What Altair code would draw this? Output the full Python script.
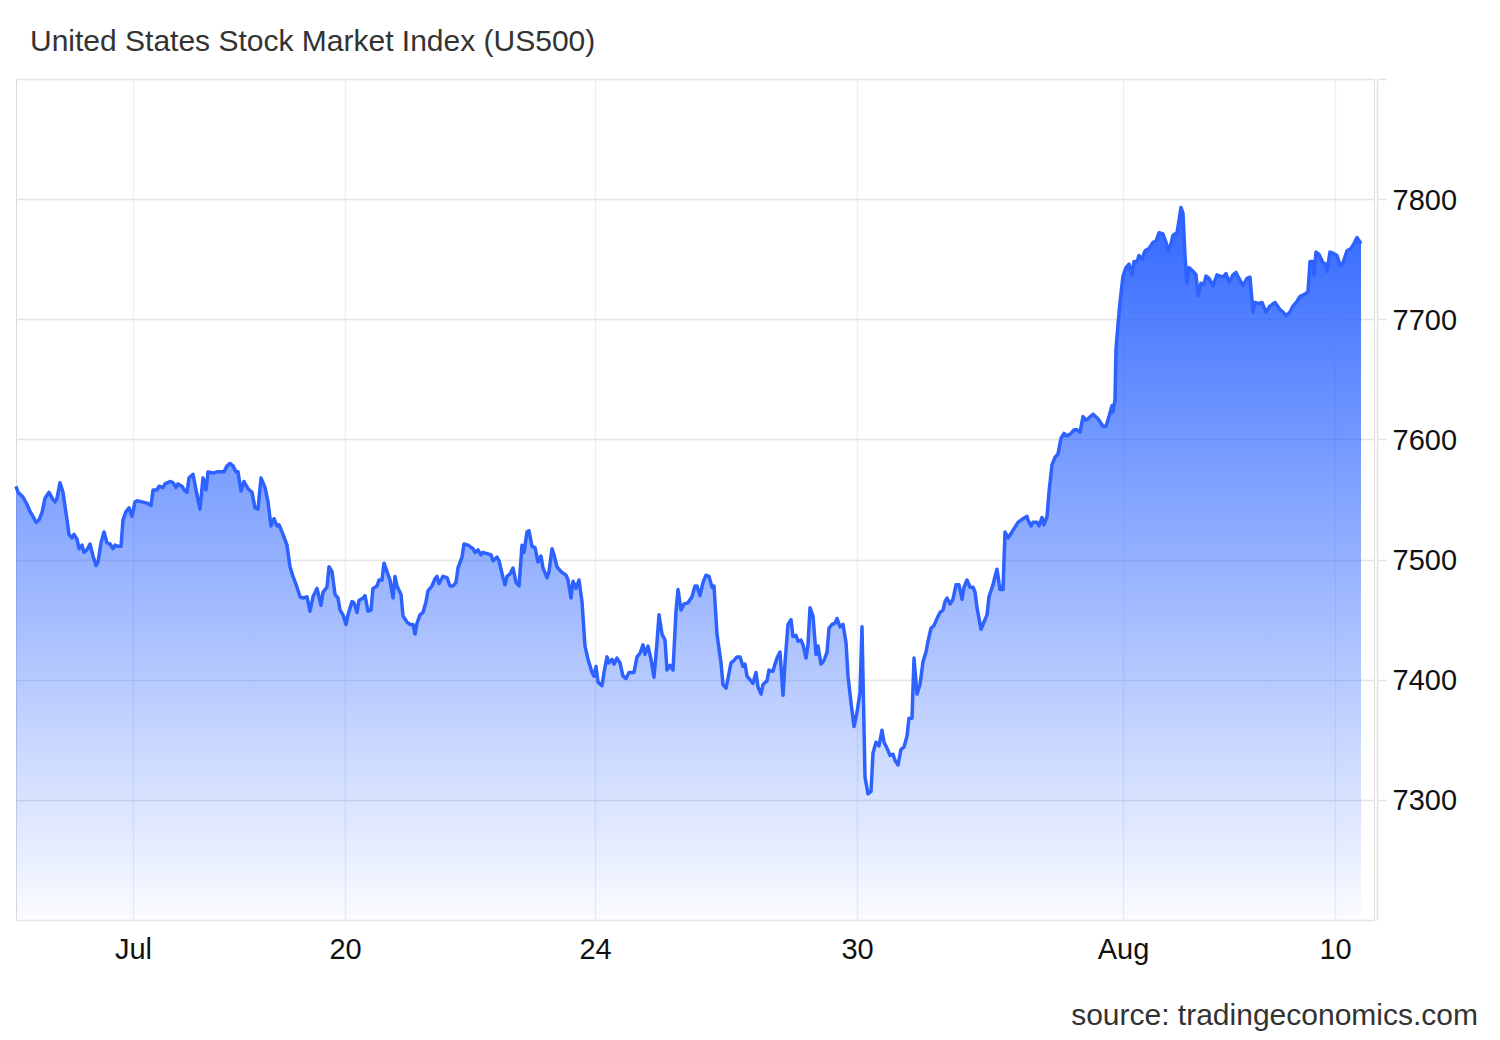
import altair as alt
import pandas as pd

TITLE = "United States Stock Market Index (US500)"
SOURCE = "source: tradingeconomics.com"

# time position (chart time units) and index level
T = [0, 2, 7, 11, 14, 17, 20, 23, 26, 29, 33, 37, 39, 41, 44, 47, 51, 53, 56, 58,
     61, 63, 66, 68, 71, 74, 77, 80, 82, 85, 88, 91, 94, 97, 99, 102, 105, 107, 110, 113,
     116, 119, 121, 126, 131, 135, 137, 141, 143, 147, 149, 154, 157, 160, 162, 166, 169, 171, 173, 177,
     180, 184, 187, 190, 192, 197, 201, 204, 208, 211, 214, 217, 220, 222, 225, 228, 232, 236, 239, 242,
     245, 249, 252, 255, 258, 261, 263, 267, 271, 274, 277, 281, 284, 287, 291, 294, 297, 301, 305, 307,
     311, 313, 316, 319, 322, 324, 327, 330, 332, 336, 338, 341, 343, 347, 349, 352, 355, 357, 361, 363,
     366, 368, 371, 374, 377, 379, 381, 385, 387, 391, 394, 397, 399, 401, 404, 407, 410, 412, 416, 419,
     421, 423, 427, 431, 434, 437, 440, 442, 446, 448, 452, 457, 459, 462, 465, 467, 471, 475, 477, 481,
     483, 487, 489, 491, 494, 497, 500, 503, 506, 508, 511, 513, 516, 519, 522, 525, 527, 531, 533, 536,
     538, 541, 545, 550, 552, 555, 557, 560, 563, 566, 569, 572, 576, 578, 580, 582, 586, 588, 591, 593,
     596, 598, 601, 604, 607, 610, 613, 618, 621, 624, 627, 629, 632, 635, 638, 641, 643, 646, 649, 651,
     654, 657, 660, 662, 665, 668, 672, 676, 679, 681, 684, 687, 690, 693, 696, 698, 701, 705, 707, 710,
     712, 715, 718, 721, 724, 727, 729, 731, 735, 737, 740, 742, 745, 747, 751, 753, 757, 759, 761, 764,
     767, 769, 772, 775, 777, 780, 782, 785, 787, 790, 792, 794, 797, 800, 802, 805, 808, 811, 813, 816,
     819, 821, 824, 827, 830, 832, 835, 838, 841, 844, 846, 849, 852, 855, 857, 860, 863, 866, 868, 871,
     874, 877, 879, 882, 885, 888, 891, 893, 896, 898, 901, 904, 907, 910, 912, 915, 918, 921, 924, 927,
     929, 931, 934, 937, 940, 943, 946, 948, 951, 954, 957, 959, 961, 965, 968, 971, 973, 977, 979, 981,
     984, 987, 989, 992, 996, 999, 1002, 1007, 1011, 1012, 1015, 1017, 1021, 1023, 1026, 1028, 1031, 1033, 1036, 1039,
     1042, 1045, 1048, 1051, 1055, 1058, 1061, 1064, 1067, 1070, 1073, 1077, 1081, 1083, 1087, 1090, 1093, 1096, 1097, 1099,
     1100, 1102, 1104, 1107, 1110, 1113, 1116, 1118, 1121, 1123, 1126, 1129, 1133, 1137, 1140, 1143, 1147, 1150, 1152, 1155,
     1157, 1161, 1165, 1167, 1169, 1171, 1173, 1177, 1180, 1182, 1185, 1188, 1190, 1193, 1197, 1201, 1204, 1207, 1210, 1213,
     1217, 1220, 1223, 1227, 1231, 1234, 1237, 1239, 1242, 1246, 1250, 1254, 1259, 1264, 1267, 1270, 1274, 1277, 1281, 1284,
     1289, 1292, 1294, 1297, 1298, 1300, 1303, 1307, 1310, 1311, 1314, 1317, 1321, 1324, 1327, 1331, 1335, 1338, 1341, 1345]

V = [7561, 7556, 7552, 7546, 7540, 7536, 7531, 7533, 7539, 7551, 7556, 7550, 7548, 7551, 7564, 7556, 7533, 7521, 7518, 7521,
     7517, 7509, 7512, 7506, 7508, 7513, 7503, 7495, 7498, 7514, 7523, 7514, 7513, 7509, 7512, 7511, 7511, 7533, 7540, 7543,
     7536, 7548, 7549, 7548, 7547, 7545, 7558, 7558, 7561, 7560, 7563, 7565, 7564, 7560, 7563, 7561, 7557, 7556, 7568, 7571,
     7558, 7542, 7568, 7558, 7573, 7572, 7573, 7573, 7573, 7578, 7580, 7578, 7573, 7573, 7557, 7565, 7559, 7556, 7543, 7542,
     7568, 7560, 7548, 7528, 7534, 7528, 7529, 7521, 7512, 7494, 7486, 7477, 7469, 7468, 7469, 7457, 7469, 7476, 7462, 7473,
     7477, 7494, 7490, 7471, 7468, 7458, 7454, 7446, 7454, 7465, 7464, 7456, 7466, 7468, 7470, 7457, 7458, 7476, 7478, 7483,
     7483, 7497, 7490, 7483, 7468, 7486, 7478, 7471, 7453, 7448, 7446, 7446, 7438, 7447, 7454, 7456, 7465, 7474, 7478, 7484,
     7486, 7480, 7486, 7485, 7478, 7478, 7481, 7493, 7502, 7513, 7512, 7509, 7506, 7508, 7504, 7506, 7505, 7504, 7499, 7502,
     7499, 7485, 7479, 7486, 7488, 7493, 7481, 7478, 7512, 7506, 7523, 7524, 7511, 7510, 7498, 7503, 7493, 7485, 7490, 7509,
     7504, 7494, 7490, 7487, 7483, 7468, 7482, 7476, 7483, 7465, 7428, 7417, 7406, 7403, 7411, 7398, 7395, 7406, 7419, 7414,
     7417, 7413, 7418, 7414, 7403, 7401, 7406, 7406, 7419, 7422, 7429, 7421, 7428, 7417, 7402, 7431, 7454, 7438, 7433, 7408,
     7412, 7408, 7457, 7475, 7458, 7463, 7464, 7469, 7478, 7478, 7470, 7481, 7487, 7486, 7477, 7478, 7438, 7414, 7396, 7393,
     7401, 7414, 7416, 7419, 7419, 7411, 7413, 7403, 7399, 7397, 7406, 7394, 7388, 7396, 7399, 7408, 7407, 7413, 7418, 7423,
     7387, 7414, 7446, 7450, 7436, 7437, 7432, 7433, 7429, 7418, 7429, 7460, 7453, 7421, 7428, 7413, 7416, 7423, 7443, 7446,
     7447, 7451, 7444, 7446, 7431, 7403, 7381, 7361, 7373, 7389, 7444, 7319, 7305, 7307, 7339, 7348, 7345, 7358, 7348, 7343,
     7337, 7338, 7333, 7329, 7342, 7344, 7353, 7368, 7368, 7418, 7388, 7396, 7415, 7423, 7432, 7443, 7445, 7451, 7456, 7458,
     7465, 7468, 7463, 7467, 7479, 7479, 7467, 7477, 7483, 7477, 7477, 7473, 7460, 7442, 7448, 7454, 7469, 7479, 7486, 7492,
     7475, 7475, 7523, 7518, 7523, 7527, 7531, 7534, 7536, 7533, 7528, 7531, 7531, 7528, 7535, 7529, 7536, 7556, 7579, 7585,
     7588, 7601, 7605, 7603, 7605, 7608, 7608, 7606, 7619, 7616, 7618, 7621, 7618, 7616, 7611, 7611, 7619, 7628, 7623, 7633,
     7675, 7696, 7714, 7736, 7743, 7746, 7737, 7748, 7748, 7753, 7750, 7757, 7759, 7764, 7765, 7772, 7771, 7764, 7757, 7763,
     7770, 7772, 7793, 7788, 7753, 7730, 7743, 7740, 7737, 7720, 7730, 7729, 7736, 7734, 7728, 7737, 7736, 7735, 7738, 7731,
     7737, 7739, 7734, 7728, 7734, 7735, 7706, 7714, 7713, 7714, 7706, 7711, 7714, 7708, 7706, 7703, 7706, 7711, 7715, 7719,
     7721, 7723, 7748, 7748, 7737, 7756, 7754, 7747, 7746, 7740, 7756, 7755, 7753, 7745, 7747, 7757, 7759, 7763, 7768, 7763]

X_TICKS = [117, 329, 579, 841, 1107, 1319]
X_LABELS = ["Jul", "20", "24", "30", "Aug", "10"]
X_MAX = 1358
Y_TICKS = [7300, 7400, 7500, 7600, 7700, 7800, 7900]
Y_MIN, Y_MAX = 7200, 7900

FONT = "Liberation Sans"

df = pd.DataFrame({"t": T, "v": V})

x_label_expr = ("[" + ",".join("'%s'" % s for s in X_LABELS) + "][indexof(["
                + ",".join(str(v) for v in X_TICKS) + "], datum.value)]")

x_enc = alt.X(
    "t:Q",
    scale=alt.Scale(domain=[0, X_MAX], nice=False, zero=False),
    axis=alt.Axis(
        values=X_TICKS, labelExpr=x_label_expr, title=None,
        grid=True, gridColor="#eceff5", gridWidth=1.5,
        ticks=False, tickSize=0,
        domain=True, domainColor="#e4e4e4", domainWidth=1.5,
        labelPadding=38, labelBaseline="alphabetic", labelFontSize=29,
        labelFont=FONT, labelColor="#111111", labelFlush=False, labelOverlap=False,
    ),
)

y_enc = alt.Y(
    "v:Q",
    scale=alt.Scale(domain=[Y_MIN, Y_MAX], nice=False, zero=False),
    axis=alt.Axis(
        orient="right", values=Y_TICKS, format="d", title=None,
        labelExpr="datum.value == %d ? '' : datum.label" % Y_MAX,
        grid=True, gridColor="#e4e4e4", gridWidth=1.5,
        offset=3, domain=True, domainColor="#e4e4e4", domainWidth=1.5,
        ticks=True, tickColor="#e4e4e4", tickSize=9, tickWidth=1.5,
        labelPadding=6, labelBaseline="alphabetic", labelOffset=10,
        labelFontSize=29, labelFont=FONT, labelColor="#111111",
        labelFlush=False, labelOverlap=False,
    ),
)

base = alt.Chart(df)

area = base.mark_area(
    color=alt.Gradient(
        gradient="linear",
        stops=[
            alt.GradientStop(color="rgba(41,98,255,0.96)", offset=0),
            alt.GradientStop(color="rgba(41,98,255,0.02)", offset=1),
        ],
        x1=1, x2=1, y1=0, y2=1,
    )
).encode(x=x_enc, y=y_enc, y2=alt.datum(Y_MIN))

line = base.mark_line(color="#2d62ff", strokeWidth=3.5, strokeJoin="round").encode(
    x=x_enc, y=y_enc
)

title = alt.Chart(pd.DataFrame({"s": [TITLE]})).mark_text(
    align="left", baseline="alphabetic", fontSize=30, font=FONT, color="#333333"
).encode(text="s:N", x=alt.value(14), y=alt.value(-28))

source = alt.Chart(pd.DataFrame({"s": [SOURCE]})).mark_text(
    align="right", baseline="alphabetic", fontSize=30, font=FONT, color="#333333"
).encode(text="s:N", x=alt.value(1462), y=alt.value(946))

chart = (
    alt.layer(area, line, title, source)
    .properties(
        width=1358,
        height=841,
        autosize=alt.AutoSizeParams(type="none"),
        padding={"left": 8, "top": 71, "right": 110, "bottom": 112},
    )
    .configure_view(stroke=None)
    .configure(font=FONT)
)

chart.save("out.html", embed_options={"renderer": "svg", "actions": False})
